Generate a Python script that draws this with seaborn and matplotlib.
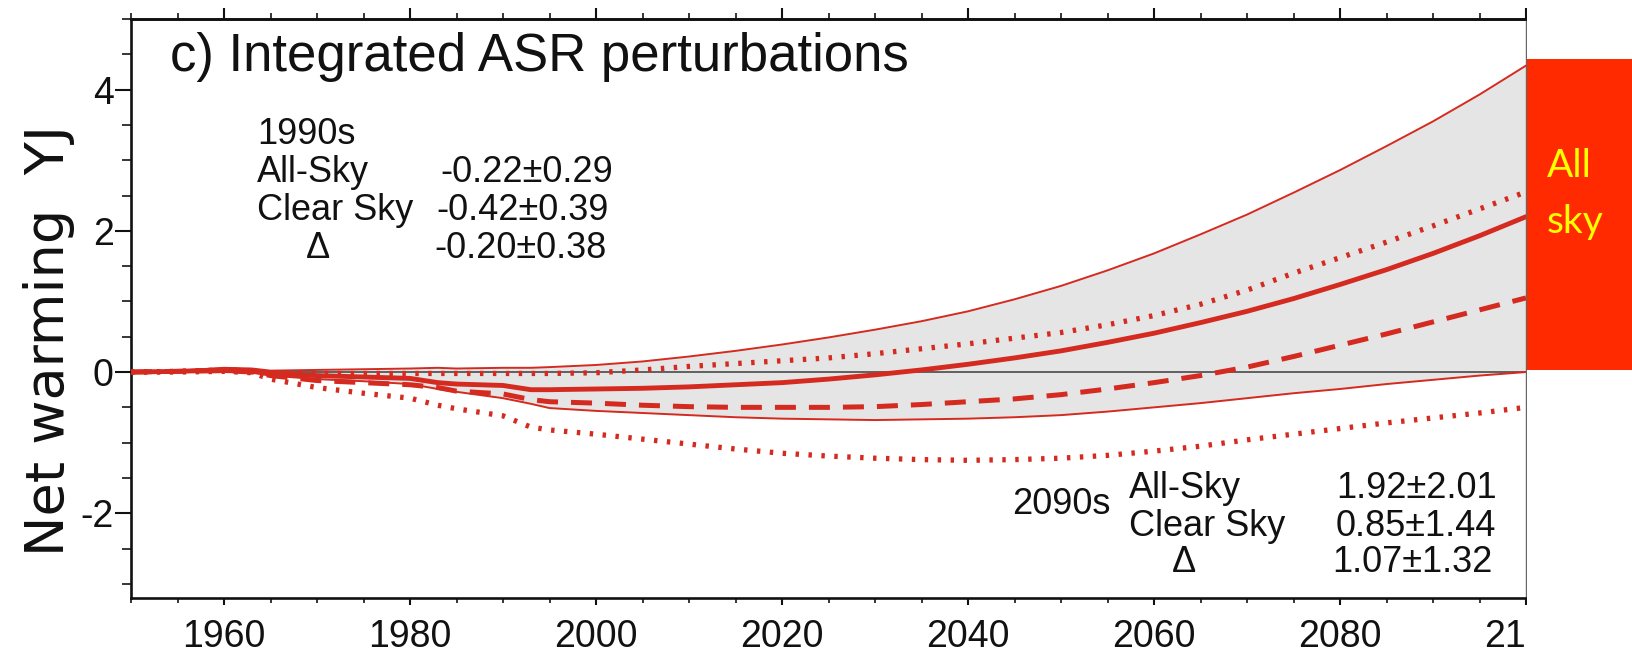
import matplotlib
matplotlib.use("Agg")
import matplotlib.pyplot as plt
import numpy as np
import pandas as pd
import seaborn as sns
from matplotlib.patches import Rectangle
from matplotlib.ticker import MultipleLocator

# ---- data (YJ, integrated ASR perturbation) ----
years = [1950, 1955, 1960, 1963, 1965, 1970, 1975, 1980, 1983, 1985, 1990, 1993, 1995,
         2000, 2005, 2010, 2015, 2020, 2025, 2030, 2035, 2040, 2045, 2050, 2055,
         2060, 2065, 2070, 2075, 2080, 2085, 2090, 2095, 2100]

all_sky_upper = [0.00, 0.02, 0.06, 0.05, 0.02, 0.03, 0.04, 0.05, 0.06, 0.05, 0.06, 0.06, 0.07,
                 0.10, 0.15, 0.22, 0.30, 0.39, 0.49, 0.60, 0.72, 0.86, 1.03, 1.22, 1.44,
                 1.68, 1.95, 2.23, 2.54, 2.86, 3.20, 3.55, 3.93, 4.34]
all_sky_lower = [0.00, 0.00, 0.00, -0.01, -0.05, -0.10, -0.13, -0.17, -0.24, -0.28, -0.37, -0.45, -0.51,
                 -0.55, -0.58, -0.61, -0.64, -0.66, -0.67, -0.68, -0.67, -0.66, -0.64, -0.61, -0.56,
                 -0.50, -0.44, -0.37, -0.30, -0.24, -0.17, -0.11, -0.05, 0.00]
all_sky_mean = [0.00, 0.01, 0.03, 0.02, -0.02, -0.05, -0.07, -0.09, -0.15, -0.17, -0.19, -0.25, -0.25,
                -0.24, -0.23, -0.21, -0.18, -0.15, -0.10, -0.04, 0.03, 0.11, 0.20, 0.30, 0.42,
                0.55, 0.70, 0.86, 1.04, 1.24, 1.45, 1.68, 1.93, 2.20]
clear_sky_mean = [0.00, 0.01, 0.02, 0.00, -0.05, -0.12, -0.15, -0.18, -0.22, -0.27, -0.31, -0.39, -0.42,
                  -0.44, -0.47, -0.49, -0.50, -0.50, -0.50, -0.49, -0.46, -0.42, -0.38, -0.32, -0.24,
                  -0.15, -0.05, 0.07, 0.22, 0.38, 0.54, 0.71, 0.88, 1.05]
clear_sky_upper = [0.00, 0.01, 0.03, 0.02, -0.01, -0.02, -0.02, -0.02, -0.02, -0.02, -0.02, -0.02, -0.02,
                   -0.01, 0.03, 0.08, 0.12, 0.16, 0.20, 0.26, 0.33, 0.40, 0.48, 0.56, 0.67,
                   0.80, 0.96, 1.16, 1.40, 1.62, 1.84, 2.07, 2.31, 2.55]
clear_sky_lower = [0.00, 0.00, 0.01, -0.01, -0.10, -0.22, -0.30, -0.37, -0.47, -0.52, -0.62, -0.78, -0.82,
                   -0.88, -0.95, -1.02, -1.09, -1.15, -1.19, -1.22, -1.24, -1.25, -1.24, -1.22, -1.18,
                   -1.12, -1.05, -0.96, -0.88, -0.80, -0.72, -0.65, -0.58, -0.50]

x_ticks = [1960, 1980, 2000, 2020, 2040, 2060, 2080, 2100]
y_ticks = [-2, 0, 2, 4]

title = "c) Integrated ASR perturbations"
ylabel = "Net warming  YJ"
stats_1990s = [("All-Sky", "-0.22±0.29"), ("Clear Sky", "-0.42±0.39"), ("Δ", "-0.20±0.38")]
stats_2090s = [("All-Sky", "1.92±2.01"), ("Clear Sky", "0.85±1.44"), ("Δ", "1.07±1.32")]
side_label = ["All", "sky"]

# ---- style ----
sns.set_style("white")
plt.rcParams["font.family"] = ["Liberation Sans", "DejaVu Sans"]
plt.rcParams["axes.unicode_minus"] = False

RED = "#d42a1f"
FILL = "#e5e5e5"
INK = "#111111"
W, H = 1633, 652

fig = plt.figure(figsize=(W / 100, H / 100), dpi=100)
AX_L, AX_R, AX_T, AX_B = 131, 1526, 19, 598
ax = fig.add_axes([AX_L / W, 1 - AX_B / H, (AX_R - AX_L) / W, (AX_B - AX_T) / H])


def axpos(px, py):
    """Pixel position on the figure -> axes fraction."""
    return (px - AX_L) / (AX_R - AX_L), (AX_B - py) / (AX_B - AX_T)


ax.fill_between(years, all_sky_lower, all_sky_upper, color=FILL, lw=0, zorder=1)
ax.axhline(0, color="#555555", lw=1.3, zorder=2)

dotted = (0, (0.65, 1.8))
dashed = (0, (4.2, 2.6))
line_specs = [
    (all_sky_upper, dict(lw=1.4, linestyle="-")),
    (all_sky_lower, dict(lw=1.4, linestyle="-")),
    (clear_sky_upper, dict(lw=3.8, linestyle=dotted)),
    (clear_sky_lower, dict(lw=3.8, linestyle=dotted)),
    (clear_sky_mean, dict(lw=3.6, linestyle=dashed)),
    (all_sky_mean, dict(lw=3.5, linestyle="-")),
]
for values, kw in line_specs:
    sns.lineplot(x=years, y=values, ax=ax, color=RED, estimator=None, sort=False,
                 zorder=3, dash_capstyle="butt", **kw)

ax.set_xlim(1950, 2100)
ax.set_ylim(-3.2, 5.0)

# axes frame
for side in ["left", "bottom", "top"]:
    ax.spines[side].set_linewidth(1.9)
    ax.spines[side].set_color(INK)
ax.spines["right"].set_linewidth(1.0)
ax.spines["right"].set_color("#666666")

ax.set_xticks(x_ticks)
ax.set_xticklabels([str(t) for t in x_ticks])
ax.xaxis.set_minor_locator(MultipleLocator(5))
ax.set_yticks(y_ticks)
ax.set_yticklabels([str(t) for t in y_ticks])
ax.yaxis.set_minor_locator(MultipleLocator(0.5))

ax.tick_params(axis="x", which="major", direction="out", length=5, width=1.5,
               bottom=True, top=False, labelsize=27, pad=10, colors=INK)
ax.tick_params(axis="x", which="minor", direction="out", length=3.5, width=1.3,
               bottom=True, top=False)
ax.tick_params(axis="y", which="major", direction="out", length=11.5, width=1.5,
               left=True, right=False, labelsize=27, pad=1, colors=INK)
ax.tick_params(axis="y", which="minor", direction="out", length=6.5, width=1.3,
               left=True, right=False)

top = ax.secondary_xaxis("top")
top.set_xticks(x_ticks)
top.xaxis.set_minor_locator(MultipleLocator(5))
top.tick_params(axis="x", which="major", direction="out", length=8, width=1.5,
                labeltop=False, colors=INK)
top.tick_params(axis="x", which="minor", direction="out", length=4.3, width=1.3)
top.spines["top"].set_linewidth(1.9)
top.spines["top"].set_color(INK)

ax.set_xlabel("")
ax.set_ylabel(ylabel, fontsize=39, family=["DejaVu Sans"], color=INK)
ax.yaxis.set_label_coords(-0.0405, 0.444)

# panel title
ax.text(*axpos(170, 71), title, transform=ax.transAxes, fontsize=38, va="baseline",
        ha="left", color=INK)

# 1990s block
FS = 26
ax.text(*axpos(257, 135), "1990s", transform=ax.transAxes, fontsize=FS, va="center", color=INK)
rows_y = [172, 210, 248]
label_x = [257, 257, 306]
value_x = [440, 436, 434]
for (name, val), ry, lx, vx in zip(stats_1990s, rows_y, label_x, value_x):
    ax.text(*axpos(lx, ry), name, transform=ax.transAxes, fontsize=FS, va="center", color=INK)
    ax.text(*axpos(vx, ry), val, transform=ax.transAxes, fontsize=FS, va="center", color=INK)

# 2090s block
ax.text(*axpos(1012, 505), "2090s", transform=ax.transAxes, fontsize=FS, va="center", color=INK)
rows_y = [489, 526, 563]
label_x = [1129, 1129, 1172]
value_r = [1497, 1496, 1493]
for (name, val), ry, lx, vr in zip(stats_2090s, rows_y, label_x, value_r):
    ax.text(*axpos(lx, ry), name, transform=ax.transAxes, fontsize=FS, va="center", color=INK)
    ax.text(*axpos(vr, ry), val, transform=ax.transAxes, fontsize=FS, va="center",
            ha="right", color=INK)

# side panel: white margin and red tag
fig.add_artist(Rectangle((1527.5 / W, 0), (W - 1527.5) / W, 1, transform=fig.transFigure,
                         facecolor="white", edgecolor="none", zorder=5))
fig.add_artist(Rectangle((1527.5 / W, 1 - 370 / H), (W - 1527.5) / W, (370 - 59) / H,
                         transform=fig.transFigure, facecolor="#ff2a00", edgecolor="none",
                         zorder=6))
for word, base in zip(side_label, [177, 233]):
    fig.text(1547 / W, 1 - base / H, word, fontsize=28, color="#ffff00", va="baseline",
             ha="left", family=["Lato", "DejaVu Sans"], zorder=7)

fig.savefig("out.png", dpi=100)
